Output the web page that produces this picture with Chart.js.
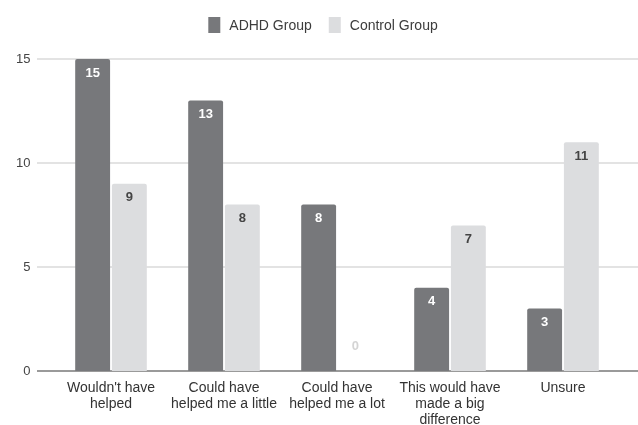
<!DOCTYPE html>
<html>
<head>
<meta charset="utf-8">
<script src="https://cdn.jsdelivr.net/npm/chart.js@4.4.1/dist/chart.umd.min.js"></script>
<style>
  html, body { margin: 0; padding: 0; background: #ffffff; }
  #wrap { width: 638px; height: 425px; position: relative; }
</style>
</head>
<body>
<div id="wrap"><canvas id="chart" width="638" height="425"></canvas></div>
<script>
// Survey answers, counted per group
const categories = [
  ["Wouldn't have", "helped"],
  ["Could have", "helped me a little"],
  ["Could have", "helped me a lot"],
  ["This would have", "made a big", "difference"],
  ["Unsure"]
];
const seriesNames = ["ADHD Group", "Control Group"];
const adhdValues = [15, 13, 8, 4, 3];
const controlValues = [9, 8, 0, 7, 11];
const yTicks = [0, 5, 10, 15];

const FONT = "'Liberation Sans', Arial, sans-serif";
const DARK = '#77787b';
const LIGHT = '#dcdddf';

// Horizontal grid lines run the full width, past the category band
const gridPlugin = {
  id: 'wideGrid',
  beforeDatasetsDraw(chart) {
    const ctx = chart.ctx;
    const y = chart.scales.y;
    ctx.save();
    yTicks.forEach(v => {
      const py = Math.round(y.getPixelForValue(v));
      ctx.strokeStyle = v === 0 ? '#9a9a9a' : '#e3e3e3';
      ctx.lineWidth = 2;
      ctx.beginPath();
      ctx.moveTo(37, py);
      ctx.lineTo(638, py);
      ctx.stroke();
    });
    ctx.restore();
  }
};

// Value labels placed just inside the top of each bar
const valueLabels = {
  id: 'valueLabels',
  afterDatasetsDraw(chart) {
    const ctx = chart.ctx;
    ctx.save();
    ctx.font = 'bold 13px ' + FONT;
    ctx.textAlign = 'center';
    ctx.textBaseline = 'middle';
    chart.data.datasets.forEach((ds, di) => {
      const meta = chart.getDatasetMeta(di);
      meta.data.forEach((bar, i) => {
        const v = ds.data[i];
        const h = bar.base - bar.y;
        let ty, color;
        if (h >= 24) {
          ty = bar.y + 14;
          color = di === 0 ? '#ffffff' : '#444444';
        } else {
          ty = bar.y - 25;
          color = '#d4d4d4';
        }
        ctx.fillStyle = color;
        ctx.fillText(String(v), bar.x, ty);
      });
    });
    ctx.restore();
  }
};

// Legend row centred above the plot
const legendRow = {
  id: 'legendRow',
  afterDraw(chart) {
    const ctx = chart.ctx;
    ctx.save();
    ctx.font = '14px ' + FONT;
    ctx.textBaseline = 'middle';
    ctx.textAlign = 'left';
    const items = chart.data.datasets.map(ds => ({
      text: ds.label, color: ds.backgroundColor, w: ctx.measureText(ds.label).width
    }));
    const boxW = 12, boxH = 16, gapText = 9, gapItem = 17;
    let total = 0;
    items.forEach((it, k) => { total += boxW + gapText + it.w + (k ? gapItem : 0); });
    let x = 323 - total / 2;
    const cy = 25;
    items.forEach(it => {
      ctx.fillStyle = it.color;
      ctx.fillRect(x, cy - boxH / 2, boxW, boxH);
      x += boxW + gapText;
      ctx.fillStyle = '#3c3c3c';
      ctx.fillText(it.text, x, cy + 1);
      x += it.w + gapItem;
    });
    ctx.restore();
  }
};

new Chart(document.getElementById('chart'), {
  type: 'bar',
  data: {
    labels: categories,
    datasets: [
      { label: seriesNames[0], data: adhdValues, backgroundColor: DARK,
        borderRadius: 2, borderSkipped: 'bottom',
        categoryPercentage: 0.65, barPercentage: 0.95 },
      { label: seriesNames[1], data: controlValues, backgroundColor: LIGHT,
        borderRadius: 2, borderSkipped: 'bottom',
        categoryPercentage: 0.65, barPercentage: 0.95 }
    ]
  },
  options: {
    responsive: false,
    animation: false,
    devicePixelRatio: 1,
    layout: { padding: { top: 59, right: 18.5, bottom: 0, left: 0 } },
    plugins: {
      legend: { display: false },
      tooltip: { enabled: false },
      title: { display: false }
    },
    scales: {
      x: {
        grid: { display: false, drawTicks: false },
        border: { display: false },
        ticks: {
          color: '#333333',
          font: { family: FONT, size: 14, lineHeight: 1.15 },
          padding: 9,
          maxRotation: 0,
          autoSkip: false
        },
        afterFit(scale) { scale.height = 54; }
      },
      y: {
        min: 0,
        max: 15,
        grid: { display: false, drawTicks: false },
        border: { display: false },
        ticks: {
          stepSize: 5,
          color: '#444444',
          font: { family: FONT, size: 13 },
          padding: 24,
          maxRotation: 0
        },
        afterBuildTicks(scale) { scale.ticks = yTicks.map(v => ({ value: v })); },
        afterFit(scale) { scale.width = 54.5; }
      }
    }
  },
  plugins: [gridPlugin, valueLabels, legendRow]
});
</script>
</body>
</html>
